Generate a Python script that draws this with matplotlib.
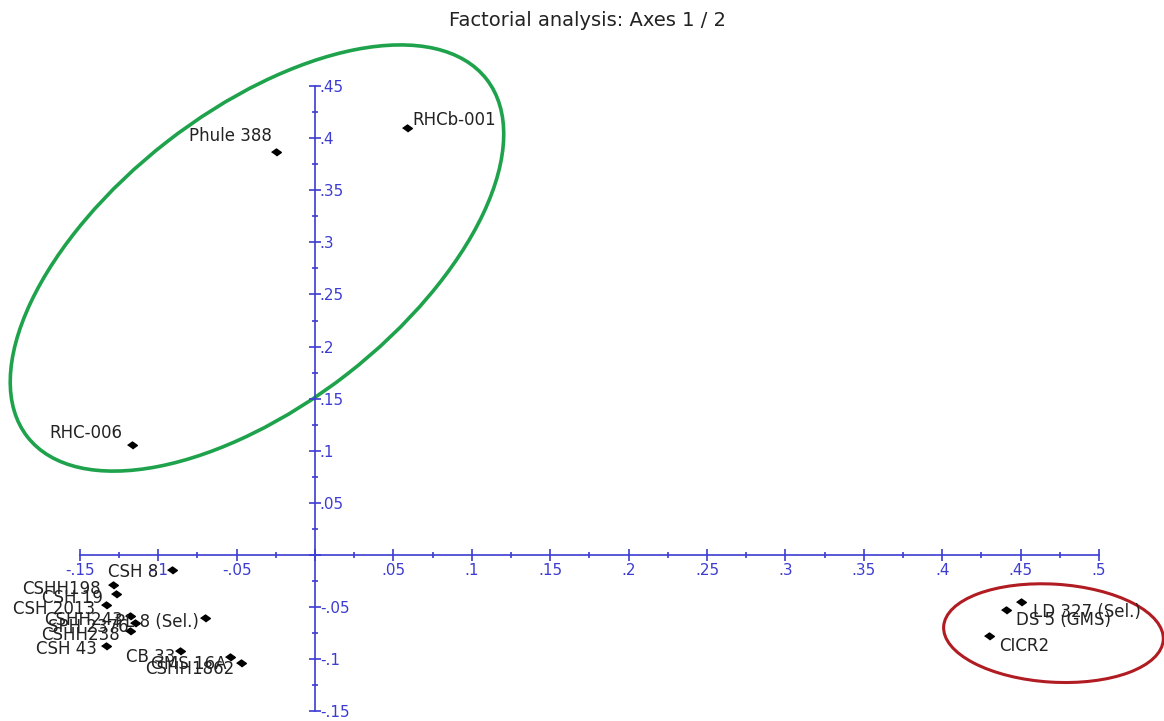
import matplotlib
matplotlib.use("Agg")
import matplotlib.pyplot as plt
import matplotlib.transforms as mtrans
import numpy as np
from matplotlib.patches import Ellipse
from matplotlib.ticker import FixedLocator, FixedFormatter

# factor scores (axis 1, axis 2)
names = ["RHCb-001", "Phule 388", "RHC-006", "CSH 8", "CSHH198", "CSH 19",
         "CSH 2013", "CSHH243", "SPH 2376", "PL 8 (Sel.)", "CSHH238", "CSH 43",
         "CB 33", "GMS 16A", "CSHH1862", "LD 327 (Sel.)", "DS 5 (GMS)", "CICR2"]
f1 = [0.059, -0.025, -0.117, -0.091, -0.129, -0.127,
      -0.133, -0.118, -0.115, -0.070, -0.118, -0.133,
      -0.086, -0.054, -0.047, 0.450, 0.441, 0.430]
f2 = [0.410, 0.387, 0.106, -0.014, -0.029, -0.037,
      -0.048, -0.059, -0.065, -0.060, -0.073, -0.087,
      -0.092, -0.098, -0.104, -0.045, -0.053, -0.078]

xticks = [-0.15, -0.1, -0.05, 0, 0.05, 0.1, 0.15, 0.2, 0.25, 0.3, 0.35, 0.4, 0.45, 0.5]
xticklabels = ["-.15", "-.1", "-.05", "", ".05", ".1", ".15", ".2", ".25", ".3", ".35", ".4", ".45", ".5"]
yticks = [-0.15, -0.1, -0.05, 0, 0.05, 0.1, 0.15, 0.2, 0.25, 0.3, 0.35, 0.4, 0.45]
yticklabels = ["-.15", "-.1", "-.05", "", ".05", ".1", ".15", ".2", ".25", ".3", ".35", ".4", ".45"]

# label placement (pixel offsets from the point, alignment)
label_pos = {
    "RHCb-001": (5, 8, "left"), "Phule 388": (-4, 16, "right"), "RHC-006": (-9, 12, "right"),
    "CSH 8": (-14, -2, "right"), "CSHH198": (-12, -4, "right"), "CSH 19": (-13, -4, "right"),
    "CSH 2013": (-11, -4, "right"), "CSHH243": (-7, -4, "right"), "SPH 2376": (-6, -4, "right"),
    "PL 8 (Sel.)": (-6, -4, "right"), "CSHH238": (-10, -4, "right"), "CSH 43": (-10, -3, "right"),
    "CB 33": (-5, -6, "right"), "GMS 16A": (-4, -7, "right"), "CSHH1862": (-7, -6, "right"),
    "LD 327 (Sel.)": (12, -10, "left"), "DS 5 (GMS)": (10, -10, "left"), "CICR2": (10, -10, "left"),
}

blue = "#3c3cd2"
plt.rcParams["font.family"] = ["DejaVu Sans"]

fig = plt.figure(figsize=(11.64, 7.21), dpi=100)
ax = fig.add_axes([0, 0, 1, 1])
ax.set_xlim(-0.2009, 0.5415)
ax.set_ylim(-0.1593, 0.5326)
ax.patch.set_visible(False)

ax.spines["top"].set_visible(False)
ax.spines["left"].set_visible(False)
ax.spines["bottom"].set_position(("data", 0))
ax.spines["right"].set_position(("data", 0))
ax.spines["bottom"].set_bounds(xticks[0], xticks[-1])
ax.spines["right"].set_bounds(yticks[0], yticks[-1])
for s in ["bottom", "right"]:
    ax.spines[s].set_color(blue)
    ax.spines[s].set_linewidth(1.2)

ax.yaxis.tick_right()
ax.xaxis.set_major_locator(FixedLocator(xticks))
ax.xaxis.set_major_formatter(FixedFormatter(xticklabels))
ax.yaxis.set_major_locator(FixedLocator(yticks))
ax.yaxis.set_major_formatter(FixedFormatter(yticklabels))
# minor ticks halfway between the major ones, only inside the axis lines
ax.xaxis.set_minor_locator(FixedLocator(np.array(xticks[:-1]) + 0.025))
ax.yaxis.set_minor_locator(FixedLocator(np.array(yticks[:-1]) + 0.025))
ax.tick_params(which="major", direction="inout", length=9, width=1.2, color=blue,
               labelcolor=blue, labelsize=11)
ax.tick_params(which="minor", direction="inout", length=5, width=1.2, color=blue)
ax.tick_params(axis="x", which="major", pad=1)
ax.tick_params(axis="y", which="major", pad=-1)

ax.plot(f1, f2, linestyle="none", marker=[(-1.4, 0), (0, 1), (1.4, 0), (0, -1)],
        markersize=7, color="black", zorder=3)

for n, x, y in zip(names, f1, f2):
    dx, dy, ha = label_pos[n]
    ax.annotate(n, (x, y), xytext=(dx, dy), textcoords="offset pixels",
                ha=ha, va="center", fontsize=12, color="#222222", zorder=4)

# group ellipses, sized in pixels around a data centre
def draw_ellipse(cx, cy, a_px, b_px, angle, color, lw):
    tr = fig.dpi_scale_trans + mtrans.ScaledTranslation(cx, cy, ax.transData)
    e = Ellipse((0, 0), 2 * a_px / 100, 2 * b_px / 100, angle=angle,
                transform=tr, fill=False, edgecolor=color, linewidth=lw)
    ax.add_patch(e)

draw_ellipse(-0.037, 0.285, 291, 147, 37.9, "#1ea34c", 2.6)
draw_ellipse(0.471, -0.075, 110, 49, -3.5, "#b01c22", 2.2)

fig.text(0.505, 1 - 20 / 721, "Factorial analysis: Axes 1 / 2", ha="center", va="center",
         fontsize=14, color="#222222")

fig.savefig("out.png", dpi=100)
